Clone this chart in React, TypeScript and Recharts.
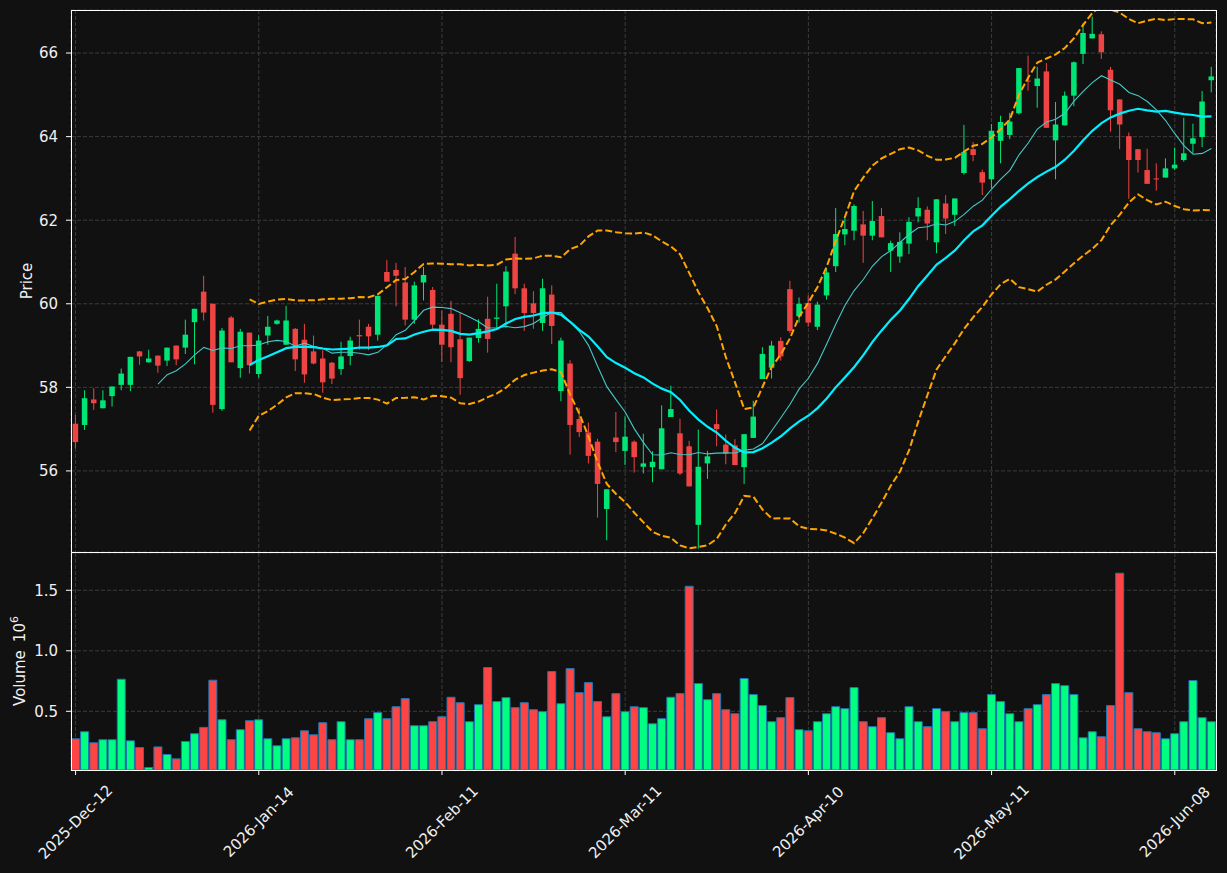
import { ComposedChart, Bar, Line, XAxis, YAxis, CartesianGrid, Cell } from "recharts"

// OHLC, one entry per trading day
const opens = [
  57.13, 57.1, 57.71, 57.5, 57.79, 58.06, 58.06, 58.86, 58.6, 58.76,
  58.64, 59.0, 58.95, 59.56, 60.29, 60.0, 57.48, 59.67, 58.46, 59.31,
  58.32, 59.24, 59.52, 59.02, 59.4, 59.14, 58.86, 58.69, 58.59, 58.44,
  58.75, 59.25, 59.45, 59.26, 60.76, 60.81, 60.51, 59.62, 60.51, 60.33,
  59.5, 59.76, 59.15, 58.63, 59.18, 59.64, 59.64, 59.94, 61.2, 60.37,
  60.01, 59.54, 60.22, 57.91, 58.57, 57.24, 56.92, 56.7, 55.09, 56.8,
  56.48, 56.7, 56.1, 56.09, 56.04, 57.29, 56.9, 56.59, 54.71, 56.18,
  57.12, 56.63, 56.61, 56.09, 56.79, 58.2, 58.47, 59.11, 60.35, 59.7,
  60.02, 59.45, 60.2, 60.9, 61.66, 61.75, 61.9, 61.63, 62.1, 61.27,
  61.13, 61.44, 62.09, 62.25, 61.47, 62.4, 62.13, 63.13, 63.7, 63.15,
  62.98, 63.9, 64.04, 64.56, 65.34, 65.21, 65.56, 63.91, 64.27, 64.98,
  65.98, 66.35, 66.45, 65.6, 64.89, 64.01, 63.7, 63.2, 63.0, 63.02,
  63.24, 63.44, 63.83, 63.99, 65.35,
]
const highs = [
  57.34, 57.93, 57.98, 57.93, 58.02, 58.45, 58.73, 58.87, 58.9, 58.76,
  58.95, 59.0, 59.62, 59.88, 60.67, 60.0, 59.42, 59.71, 59.4, 59.31,
  59.25, 59.71, 59.62, 59.95, 59.42, 59.52, 59.24, 58.89, 58.61, 59.09,
  59.21, 59.62, 59.52, 60.19, 61.05, 60.98, 60.88, 60.53, 60.88, 60.4,
  59.84, 60.07, 59.78, 59.19, 59.63, 60.17, 60.48, 60.9, 61.6, 60.48,
  60.3, 60.6, 60.44, 59.19, 58.65, 57.51, 57.16, 56.77, 55.56, 57.41,
  57.31, 56.73, 56.89, 56.47, 57.57, 58.04, 57.25, 56.72, 56.99, 56.48,
  57.47, 56.87, 56.76, 56.88, 57.68, 58.96, 59.11, 59.2, 60.55, 60.15,
  60.2, 60.05, 60.85, 62.29, 62.06, 62.38, 62.22, 62.46, 62.29, 61.51,
  61.71, 62.07, 62.55, 62.33, 62.5, 62.6, 62.52, 64.28, 63.87, 63.21,
  64.3, 64.5, 64.57, 65.64, 65.94, 65.67, 65.76, 64.83, 65.08, 65.8,
  66.71, 66.87, 66.52, 65.67, 64.89, 64.1, 63.7, 63.71, 63.36, 63.48,
  63.74, 64.45, 64.31, 65.09, 65.67,
]
const lows = [
  56.54, 56.98, 57.46, 57.5, 57.54, 57.93, 57.91, 58.54, 58.59, 58.35,
  58.51, 58.53, 58.8, 58.55, 59.6, 57.39, 57.44, 58.6, 58.23, 58.33,
  58.23, 59.02, 59.5, 59.02, 58.39, 58.11, 58.55, 57.87, 58.08, 58.3,
  58.53, 58.9, 58.89, 59.12, 60.53, 59.94, 59.48, 59.52, 60.08, 59.38,
  58.61, 58.6, 57.82, 58.61, 59.07, 58.83, 59.43, 59.43, 60.23, 59.35,
  59.4, 59.35, 59.04, 57.67, 56.39, 56.81, 56.18, 54.88, 54.34, 56.45,
  56.14, 55.96, 55.94, 55.73, 56.04, 57.29, 55.9, 55.63, 54.14, 55.81,
  56.59, 56.16, 56.14, 55.69, 56.79, 58.2, 58.21, 58.64, 59.3, 59.55,
  59.45, 59.37, 60.1, 60.76, 61.4, 61.52, 60.98, 61.52, 61.59, 60.76,
  60.98, 61.19, 61.95, 61.52, 61.21, 61.67, 61.86, 63.09, 63.41, 62.6,
  62.76, 63.36, 63.94, 64.53, 65.1, 64.69, 64.21, 62.98, 64.27, 64.73,
  65.74, 66.35, 65.86, 64.12, 63.7, 62.51, 63.14, 62.87, 62.71, 63.02,
  63.2, 63.4, 63.6, 63.75, 65.06,
]
const closes = [
  56.69, 57.74, 57.62, 57.69, 58.02, 58.33, 58.73, 58.74, 58.69, 58.52,
  58.95, 58.67, 59.26, 59.88, 59.79, 57.58, 59.36, 58.6, 59.33, 58.53,
  59.12, 59.45, 59.6, 59.6, 58.67, 58.31, 58.57, 58.12, 58.21, 58.74,
  59.12, 59.22, 59.22, 60.19, 60.53, 60.67, 59.62, 60.44, 60.69, 59.5,
  59.02, 58.96, 58.22, 59.19, 59.4, 59.16, 59.67, 60.77, 60.37, 59.78,
  59.78, 60.37, 59.47, 59.12, 57.1, 56.93, 56.36, 55.69, 55.56, 56.69,
  56.82, 56.33, 56.18, 56.22, 57.02, 57.48, 55.94, 55.63, 56.1, 56.35,
  57.0, 56.41, 56.14, 56.88, 57.3, 58.8, 59.0, 58.74, 59.35, 60.0,
  59.55, 59.98, 60.75, 61.67, 61.79, 62.34, 61.63, 61.98, 61.59, 61.45,
  61.48, 61.96, 62.29, 61.92, 62.5, 62.04, 62.52, 63.63, 63.56, 62.9,
  64.14, 64.35, 64.36, 65.64, 65.33, 65.39, 64.21, 64.29, 64.98, 65.78,
  66.48, 66.46, 66.02, 64.63, 64.29, 63.44, 63.44, 62.87, 62.98, 63.24,
  63.33, 63.6, 63.96, 64.84, 65.44,
]
// volume in millions
const volumes = [
  0.273, 0.331, 0.24, 0.265, 0.265, 0.765, 0.256, 0.2, 0.036, 0.206,
  0.143, 0.107, 0.251, 0.315, 0.367, 0.757, 0.43, 0.265, 0.348, 0.422,
  0.43, 0.273, 0.215, 0.273, 0.281, 0.339, 0.306, 0.406, 0.265, 0.414,
  0.265, 0.265, 0.439, 0.489, 0.439, 0.538, 0.605, 0.381, 0.381, 0.414,
  0.455, 0.616, 0.571, 0.414, 0.555, 0.862, 0.58, 0.613, 0.53, 0.571,
  0.513, 0.497, 0.828, 0.563, 0.853, 0.654, 0.737, 0.58, 0.455, 0.646,
  0.497, 0.538, 0.53, 0.397, 0.439, 0.616, 0.646, 1.533, 0.729, 0.596,
  0.646, 0.513, 0.48, 0.771, 0.638, 0.547, 0.414, 0.447, 0.613, 0.348,
  0.339, 0.414, 0.48, 0.538, 0.522, 0.696, 0.414, 0.373, 0.447, 0.323,
  0.273, 0.538, 0.414, 0.373, 0.522, 0.497, 0.414, 0.489, 0.489, 0.356,
  0.638, 0.58, 0.48, 0.414, 0.522, 0.555, 0.638, 0.729, 0.712, 0.638,
  0.281, 0.331, 0.29, 0.547, 1.641, 0.654, 0.356, 0.331, 0.323, 0.273,
  0.315, 0.414, 0.754, 0.447, 0.414,
]
const tickIndex = [0, 20, 40, 60, 80, 100, 120]
const tickLabels = ["2025-Dec-12", "2026-Jan-14", "2026-Feb-11", "2026-Mar-11", "2026-Apr-10", "2026-May-11", "2026-Jun-08"]

const UP = "#00e676"
const DOWN = "#ef4444"
const VOL_UP = "#00ff80"
const VOL_DOWN = "#ff4444"
const TXT = "#f0f0f0"
const GRID = "#3c3c3c"

// rolling mean / bollinger from the closes
function rolling(n: number, i: number) {
  if (i < n - 1) return null
  const win = closes.slice(i - n + 1, i + 1)
  const mean = win.reduce((a, b) => a + b, 0) / n
  const sd = Math.sqrt(win.reduce((a, b) => a + (b - mean) ** 2, 0) / n)
  return { mean, sd }
}

const rows = closes.map((c, i) => {
  const r10 = rolling(10, i)
  const r20 = rolling(20, i)
  return {
    i,
    open: opens[i],
    high: highs[i],
    low: lows[i],
    close: c,
    range: [lows[i], highs[i]],
    vol: volumes[i],
    ma10: r10 ? r10.mean : null,
    ma20: r20 ? r20.mean : null,
    upper: r20 ? r20.mean + 2 * r20.sd : null,
    lower: r20 ? r20.mean - 2 * r20.sd : null,
  }
})

function Candle(props: any) {
  const { x, y, width, height, payload } = props
  const top = Math.min(y, y + height)
  const h = Math.abs(height)
  const { open, close, high, low } = payload
  const k = high > low ? h / (high - low) : 0
  const py = (v: number) => top + (high - v) * k
  const cx = x + width / 2
  const color = close >= open ? UP : DOWN
  const bTop = py(Math.max(open, close))
  const bBot = py(Math.min(open, close))
  return (
    <g>
      <line x1={cx} x2={cx} y1={top} y2={top + h} stroke={color} strokeWidth={1} />
      <rect x={cx - 2.75} y={bTop} width={5.5} height={Math.max(bBot - bTop, 1)} fill={color} />
    </g>
  )
}

function DateTick(props: any) {
  const { x, y, payload } = props
  const k = tickIndex.indexOf(payload.value)
  if (k < 0) return <g />
  const cy = y + 45
  return (
    <text x={x} y={cy} textAnchor="middle" dominantBaseline="central" transform={`rotate(-45 ${x} ${cy})`} fill={TXT} fontSize={15}>
      {tickLabels[k]}
    </text>
  )
}

const yTick = { fill: TXT, fontSize: 15 }
const frame = { position: "absolute" as const, left: 71, width: 1146, border: "1px solid #fff", boxSizing: "border-box" as const, pointerEvents: "none" as const }

export default function App() {
  return (
    <div style={{ position: "absolute", left: 0, top: 0, width: 1227, height: 873, background: "#111111", fontFamily: "DejaVu Sans" }}>
      <ComposedChart width={1227} height={553} data={rows} margin={{ top: 10, right: 11, bottom: 1, left: 0 }}>
        <CartesianGrid stroke={GRID} strokeDasharray="4 2" />
        <XAxis dataKey="i" type="category" ticks={tickIndex} hide />
        <YAxis
          domain={[54.06, 67.03]}
          ticks={[56, 58, 60, 62, 64, 66]}
          allowDataOverflow
          width={71}
          tick={yTick}
          tickSize={5}
          tickMargin={8}
          axisLine={false}
          tickLine={{ stroke: "#fff" }}
          label={{
            content: () => (
              <text x={27} y={281} transform="rotate(-90 27 281)" textAnchor="middle" dominantBaseline="central" fill={TXT} fontSize={15}>
                Price
              </text>
            ),
          }}
        />
        <Bar dataKey="range" shape={Candle} isAnimationActive={false} />
        <Line dataKey="ma10" stroke="#46c8c8" strokeWidth={1.1} dot={false} isAnimationActive={false} />
        <Line dataKey="ma20" stroke="#00f0ff" strokeWidth={2.2} dot={false} isAnimationActive={false} />
        <Line dataKey="upper" stroke="#ffa500" strokeWidth={2} strokeDasharray="7 3" dot={false} isAnimationActive={false} />
        <Line dataKey="lower" stroke="#ffa500" strokeWidth={2} strokeDasharray="7 3" dot={false} isAnimationActive={false} />
      </ComposedChart>
      <ComposedChart width={1227} height={320} data={rows} margin={{ top: 0, right: 11, bottom: 0, left: 0 }} barCategoryGap="5%">
        <CartesianGrid stroke={GRID} strokeDasharray="4 2" />
        <XAxis
          dataKey="i"
          type="category"
          ticks={tickIndex}
          interval={0}
          height={103}
          tick={<DateTick />}
          tickSize={5}
          axisLine={false}
          tickLine={{ stroke: "#fff" }}
        />
        <YAxis
          domain={[0.015, 1.808]}
          ticks={[0.5, 1, 1.5]}
          tickFormatter={(v: number) => v.toFixed(1)}
          allowDataOverflow
          width={71}
          tick={yTick}
          tickSize={5}
          tickMargin={8}
          axisLine={false}
          tickLine={{ stroke: "#fff" }}
          label={{
            content: () => (
              <text x={20} y={108} transform="rotate(-90 20 108)" textAnchor="middle" dominantBaseline="central" fill={TXT} fontSize={15}>
                <tspan>Volume</tspan>
                <tspan dx={8}>10</tspan>
                <tspan dy={-6} fontSize={11}>6</tspan>
              </text>
            ),
          }}
        />
        <Bar dataKey="vol" stroke="#1f77b4" strokeWidth={1} isAnimationActive={false}>
          {rows.map((r) => (
            <Cell key={r.i} fill={r.close >= r.open ? VOL_UP : VOL_DOWN} />
          ))}
        </Bar>
      </ComposedChart>
      <div style={{ ...frame, top: 10, height: 543 }} />
      <div style={{ ...frame, top: 552, height: 219 }} />
    </div>
  )
}
